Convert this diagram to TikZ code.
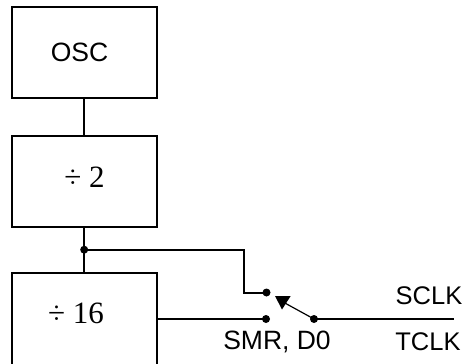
\documentclass[tikz,border=0pt]{standalone}
\usepackage{fontspec}
\setmainfont{Liberation Sans}
\newfontfamily\serifnum{Liberation Serif}
\tikzset{
  x=1pt,y=-1pt,
  wire/.style={line width=2pt,black},
  block/.style={draw=black,line width=2pt,fill=white,minimum width=145pt,minimum height=91pt,inner sep=0pt,outer sep=0pt,anchor=north west},
  jdot/.style={circle,fill=black,inner sep=0pt,minimum size=8pt},
  sans/.style={inner sep=0pt,font=\fontsize{25.5}{28}\selectfont},
  sansbig/.style={inner sep=0pt,font=\fontsize{26.5}{28}\selectfont},
  ser/.style={inner sep=0pt,font=\serifnum\fontsize{31}{33}\selectfont},
}
\begin{document}
\begin{tikzpicture}
\useasboundingbox (0,0) rectangle (467,364);
\begin{scope}
\clip (0,0) rectangle (467,364);
\node[block] (osc) at (11.7,6.7) {};
\node[block] (d2) at (11.7,135.5) {};
\node[block,minimum height=100pt] (d16) at (11.7,273.3) {};
\end{scope}
\node[sansbig] (osct) at (79.5,52) {OSC};
\node[ser] (d2t) at (84.5,177) {÷ 2};
\node[ser] (d16t) at (76,313) {÷ 16};
\coordinate (j) at (84.2,249.7);
\coordinate (d16r) at (156.7,319);
\coordinate (bend1) at (244,249.7);
\coordinate (bend2) at (244,292.5);
\coordinate (out) at (454,319);
\node[jdot] (jd) at (j) {};
\node[jdot] (up) at (266.5,292.5) {};
\node[jdot] (lo) at (266,319) {};
\node[jdot] (pivot) at (314,319) {};
\coordinate (tipbase) at (283,302);
\draw[wire] (osc.south) -- (d2.north);
\draw[wire] (d2.south) -- (jd.center) -- (d16.north);
\draw[wire] (jd.center) -- (bend1) -- (bend2) -- (up.center);
\draw[wire] (d16r) -- (lo.center);
\draw[wire] (pivot.center) -- (out);
\draw[line width=1.2pt] (pivot.center) -- (tipbase);
\fill[black] (275,296) -- (290.7,296) -- (282,309.5) -- cycle;
\node[sans] (sclk) at (429,295.5) {SCLK};
\node[sans] (tclk) at (428,341.5) {TCLK};
\node[sansbig] (smr) at (277,341.5) {SMR, D0};
\end{tikzpicture}
\end{document}
